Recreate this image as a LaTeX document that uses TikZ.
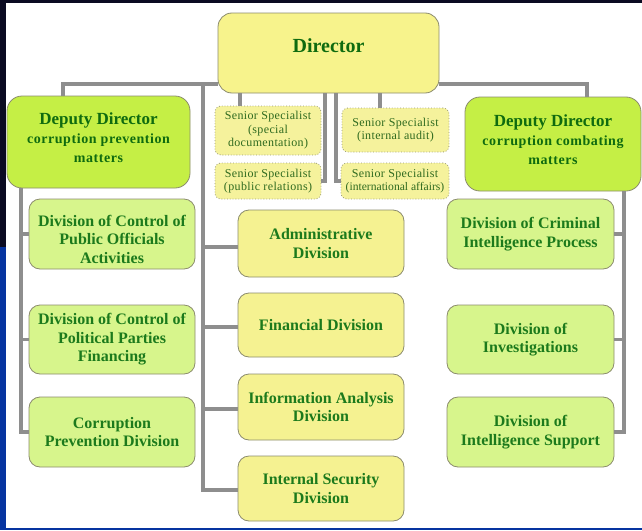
\documentclass[tikz,border=0pt]{standalone}
\usepackage{fontspec}
\setmainfont{Liberation Serif}
\newfontfamily\depsubfont[LetterSpace=4]{Liberation Serif}
\newfontfamily\spfont[LetterSpace=3]{Liberation Serif}
\definecolor{topc}{HTML}{0B0B22}
\definecolor{bluec}{HTML}{0634A0}
\definecolor{yelc}{HTML}{F7F38C}
\definecolor{limec}{HTML}{C5EF45}
\definecolor{lgreenc}{HTML}{D7F58C}
\definecolor{myelc}{HTML}{F5F291}
\definecolor{spc}{HTML}{F5F29C}
\definecolor{bordc}{HTML}{8C8C6E}
\definecolor{spbord}{HTML}{9A9A78}
\definecolor{connc}{HTML}{8E8E8E}
\definecolor{txtc}{HTML}{1C7A1C}
\definecolor{dirtxt}{HTML}{0F6B0F}
\definecolor{sptxt}{HTML}{2F6A1F}
\begin{document}
\begin{tikzpicture}[x=1pt,y=-1pt,
  conn/.style={draw=connc, line width=3.2pt},
  boxbase/.style={draw=bordc, line width=0.8pt, rounded corners=11pt, align=center, inner sep=2pt, text=txtc},
  dirbox/.style={boxbase, fill=yelc, rounded corners=14pt},
  dirtext/.style={text=dirtxt, font=\bfseries\fontsize{20}{22}\selectfont, inner sep=0pt},
  depbox/.style={boxbase, fill=limec, rounded corners=15pt},
  deptext/.style={align=center, inner sep=0pt, text=dirtxt,
     font=\depsubfont\bfseries\fontsize{14}{19}\selectfont},
  divL/.style={boxbase, fill=lgreenc, font=\bfseries\fontsize{16}{18.5}\selectfont},
  divtext/.style={align=center, inner sep=0pt, text=txtc, font=\bfseries\fontsize{16}{18.5}\selectfont},
  divM/.style={boxbase, fill=myelc, font=\bfseries\fontsize{16}{18.5}\selectfont},
  spbox/.style={draw=spbord, dotted, line width=0.8pt, fill=spc, rounded corners=6pt,
     align=center, inner sep=1pt, text=sptxt, font=\spfont\fontsize{12}{13.5}\selectfont},
]
\useasboundingbox (0,0) rectangle (642,530);
\fill[white] (0,0) rectangle (642,530);
\fill[topc] (0,0) rectangle (642,3);
\fill[topc] (0,0) rectangle (6,247);
\fill[bluec] (0,247) rectangle (6,530);
\fill[bluec] (0,528) rectangle (642,530);

% Director
\node[dirbox, minimum width=221pt, minimum height=80pt] (dir) at (328.5,53) {};
\node[dirtext] (dirlbl) at (328.5,46) {Director};

% Deputies
\node[depbox, minimum width=183pt, minimum height=92pt] (depL) at (98.5,142) {};
\node[deptext] (depLt) at (98.5,138)
  {{\rmfamily\bfseries\fontsize{17}{19}\selectfont Deputy Director}\\ corruption prevention\\ matters};
\node[depbox, minimum width=176pt, minimum height=94pt] (depR) at (553,144) {};
\node[deptext] (depRt) at (553,140)
  {{\rmfamily\bfseries\fontsize{17}{19}\selectfont Deputy Director}\\ corruption combating\\ matters};

% Senior specialists
\node[spbox, minimum width=106pt, minimum height=49pt] (sp1) at (268,130.5) {Senior Specialist\\(special\\documentation)};
\node[spbox, minimum width=106pt, minimum height=36pt] (sp2) at (268,181) {Senior Specialist\\(public relations)};
\node[spbox, minimum width=107pt, minimum height=44pt] (sp3) at (395.5,130) {Senior Specialist\\(internal audit)};
\node[spbox, minimum width=108pt, minimum height=36pt] (sp4) at (395,181) {Senior Specialist\\{\rmfamily\fontsize{11.6}{13.5}\selectfont(international affairs)}};

% Left divisions
\node[divL, minimum width=166pt, minimum height=70pt] (L1) at (112,234) {};
\node[divtext] (L1t) at (112,239) {Division of Control of\\Public Officials\\Activities};
\node[divL, minimum width=166pt, minimum height=69pt] (L2) at (112,339.5) {Division of Control of\\Political Parties\\Financing};
\node[divL, minimum width=166pt, minimum height=70pt] (L3) at (112,432) {Corruption\\Prevention Division};

% Middle divisions
\node[divM, minimum width=166pt, minimum height=67pt] (M1) at (321,243.5) {Administrative\\Division};
\node[divM, minimum width=166pt, minimum height=64pt] (M2) at (321,325) {Financial Division};
\node[divM, minimum width=166pt, minimum height=66pt] (M3) at (321,407) {Information Analysis\\Division};
\node[divM, minimum width=166pt, minimum height=65pt] (M4) at (321,488.5) {Internal Security\\Division};

% Right divisions
\node[divL, minimum width=167pt, minimum height=70pt] (R1) at (530.5,234) {Division of Criminal\\Intelligence Process};
\node[divL, minimum width=167pt, minimum height=69pt] (R2) at (530.5,339.5) {Division of\\Investigations};
\node[divL, minimum width=167pt, minimum height=70pt] (R3) at (530.5,432) {Division of\\Intelligence Support};

% Connectors
\coordinate (tL) at (63,84);
\coordinate (tR) at (587,84);
\coordinate (tM) at (203,84);
\coordinate (m1a) at ([yshift=-3.5pt]M1.west);
\coordinate (m2a) at ([yshift=-2pt]M2.west);
\coordinate (m3a) at ([yshift=-2pt]M3.west);
\coordinate (m4a) at ([yshift=-1.5pt]M4.west);
\draw[conn] (dir.west |- tL) -- (tL) -- (tL |- depL.north);
\draw[conn] (dir.east |- tR) -- (tR) -- (tR |- depR.north);
\draw[conn] (tM) |- (m4a);
\draw[conn] (tM |- m1a) -- (m1a);
\draw[conn] (tM |- m2a) -- (m2a);
\draw[conn] (tM |- m3a) -- (m3a);

\coordinate (lL) at (21,188);
\draw[conn] (lL) |- (L3.west);
\draw[conn] (lL |- L1.west) -- (L1.west);
\draw[conn] (lL |- L2.west) -- (L2.west);

\coordinate (lR) at (624,191);
\draw[conn] (lR) |- (R3.east);
\draw[conn] (lR |- R1.east) -- (R1.east);
\draw[conn] (lR |- R2.east) -- (R2.east);

\coordinate (s1x) at (240,0);
\coordinate (s2x) at (325,0);
\coordinate (s3x) at (380,0);
\coordinate (s4x) at (336,0);
\draw[conn] (s1x |- dir.south) -- (s1x |- sp1.north);
\draw[conn] (s3x |- dir.south) -- (s3x |- sp3.north);
\draw[conn] (s2x |- dir.south) |- (sp2.east);
\draw[conn] (s4x |- dir.south) |- (sp4.west);
\end{tikzpicture}
\end{document}
